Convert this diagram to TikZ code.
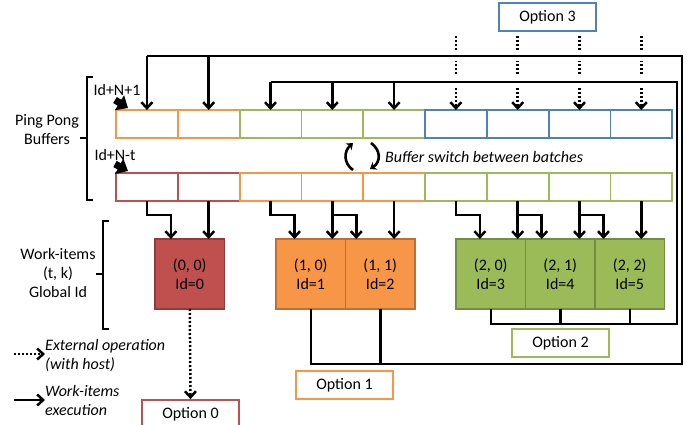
\documentclass[tikz,border=0pt]{standalone}
\usepackage{fontspec}
\setmainfont{Carlito}
\usetikzlibrary{arrows.meta}
\definecolor{redc}{HTML}{C0504D}
\definecolor{orac}{HTML}{F79646}
\definecolor{grnc}{HTML}{9BBB59}
\definecolor{bluc}{HTML}{4F81BD}
\tikzset{
  cell/.style={draw=#1, line width=1.8pt, minimum width=61.8pt, minimum height=28pt,
    inner sep=0pt, outer sep=0pt, anchor=north west},
  item/.style={draw=#1!75!black, fill=#1, line width=1.8pt, minimum width=69.5pt,
    minimum height=70pt, inner sep=0pt, outer sep=0pt, align=center, anchor=north west},
  option/.style={draw=#1, fill=white, line width=1.8pt, minimum width=97pt,
    minimum height=28pt, inner sep=0pt},
  exec/.style={line width=2.5pt, -{Straight Barb[length=6pt,width=11pt]}},
  ext/.style={exec, dash pattern=on 2pt off 2pt},
  bus/.style={line width=2.5pt},
  halo/.style={white, line width=11pt},
  brk/.style={line width=2.2pt},
  idarrow/.style={line width=7pt, -{Triangle[length=10pt,width=17pt]}},
  curl/.style={line width=2.6pt, -{Stealth[length=6pt,width=9pt]}},
}
\begin{document}
\begin{tikzpicture}[x=1pt, y=-1pt, font=\fontsize{16}{19}\selectfont]
  \useasboundingbox (0,0) rectangle (696,425);

  %% ping pong buffers
  \foreach \c [count=\i from 0] in {orac,orac,grnc,grnc,grnc,bluc,bluc,bluc,bluc}
    \node[cell=\c] (t\i) at (116+61.8*\i,110) {};
  \foreach \c [count=\i from 0] in {redc,redc,orac,orac,orac,grnc,grnc,grnc,grnc}
    \node[cell=\c] (b\i) at (116+61.8*\i,173) {};

  \node (idtop) at (117,90) {Id+N+1};
  \node (idbot) at (115,155) {Id+N-t};
  \coordinate (idA) at (115,100);
  \coordinate (idB) at (115,164);
  \draw[idarrow] (idA) -- ([xshift=12pt,yshift=2pt]t0.north west);
  \draw[idarrow] (idB) -- ([xshift=12pt,yshift=2pt]b0.north west);

  \node[align=center] (pingpong) at (47,130) {Ping Pong\\Buffers};
  \draw[brk] (93,77) -- (87,77) -- (87,200) -- (93,200);
  \draw[brk] (87,138) -- (80,138);

  %% buffer switch
  \draw[curl] (353,170) .. controls (343,163) and (344,151) .. (353,143);
  \draw[curl] (371,143) .. controls (381,150) and (381,162) .. (370,169);
  \node[anchor=west, inner sep=0pt, font=\fontsize{16}{19}\selectfont\itshape] (switch)
    at (385,157) {Buffer switch between batches};

  %% work-items
  \node[item=redc] (w00) at (155,239) {(0, 0)\\Id=0};
  \node[item=orac] (w10) at (276,239) {(1, 0)\\Id=1};
  \node[item=orac] (w11) at (345.5,239) {(1, 1)\\Id=2};
  \node[item=grnc] (w20) at (456,239) {(2, 0)\\Id=3};
  \node[item=grnc] (w21) at (525.5,239) {(2, 1)\\Id=4};
  \node[item=grnc] (w22) at (595,239) {(2, 2)\\Id=5};

  \node[align=center] (witems) at (58,273) {Work-items\\(t, k)\\Global Id};
  \draw[brk] (109,221) -- (103,221) -- (103,329) -- (109,329);
  \draw[brk] (103,274) -- (96,274);

  \foreach \c/\w in {0/w00,2/w10,3/w11,5/w20,6/w21,7/w22} {
    \coordinate (j\c) at ([xshift=24pt]b\c.south);
    \draw[exec] (b\c.south) -- ++(0,14) -| (j\c |- \w.north);
  }
  \foreach \c/\w in {1/w00,3/w10,4/w11,6/w20,7/w21,8/w22}
    \draw[exec] (b\c.south) -- (b\c.south |- \w.north);

  %% options
  \node[option=redc] (opt0) at (190.5,414) {Option 0};
  \node[option=orac] (opt1) at (344.5,385) {Option 1};
  \node[option=grnc] (opt2) at (560.5,343) {Option 2};
  \node[option=bluc] (opt3) at (547.5,17) {Option 3};

  \coordinate (busA) at (682,364);
  \coordinate (busB) at (682,56);
  \coordinate (busC) at (677,324);
  \coordinate (busD) at (677,82);

  %% external operations
  \foreach \i in {5,...,8}
    \draw[ext, shorten <=4pt] (t\i.north |- opt3.south) -- (t\i.north);
  \draw[halo] (t0.north |- busB) -- (busB);
  \draw[halo] (t2.north |- busD) -- (busD);
  \draw[ext] (w00.south) -- (opt0.north);

  %% option 1 feedback
  \draw[bus] (w10.south) -- (w10.south |- busA) -- (busA) -- (busB) -- (t0.north |- busB);
  \draw[bus] (w11.south) -- (w11.south |- busA);
  \foreach \i in {0,1}
    \draw[exec] (t\i.north |- busB) -- (t\i.north);

  %% option 2 feedback
  \draw[bus] (w20.south) -- (w20.south |- busC) -- (busC) -- (busD) -- (t2.north |- busD);
  \draw[bus] (w21.south) -- (w21.south |- busC);
  \draw[bus] (w22.south) -- (w22.south |- busC);
  \foreach \i in {2,3,4}
    \draw[exec] (t\i.north |- busD) -- (t\i.north);

  %% legend
  \node[anchor=west, align=left, inner sep=0pt, font=\fontsize{16}{19}\selectfont\itshape]
    (lgext) at (45,356) {External operation\\(with host)};
  \node[anchor=west, align=left, inner sep=0pt, font=\fontsize{16}{19}\selectfont\itshape]
    (lgexec) at (45,401) {Work-items\\execution};
  \coordinate (lgA) at (14,354);
  \coordinate (lgB) at (14,400);
  \draw[ext] (lgA) -- (lgA -| lgext.west);
  \draw[exec] (lgB) -- (lgB -| lgexec.west);
\end{tikzpicture}
\end{document}
